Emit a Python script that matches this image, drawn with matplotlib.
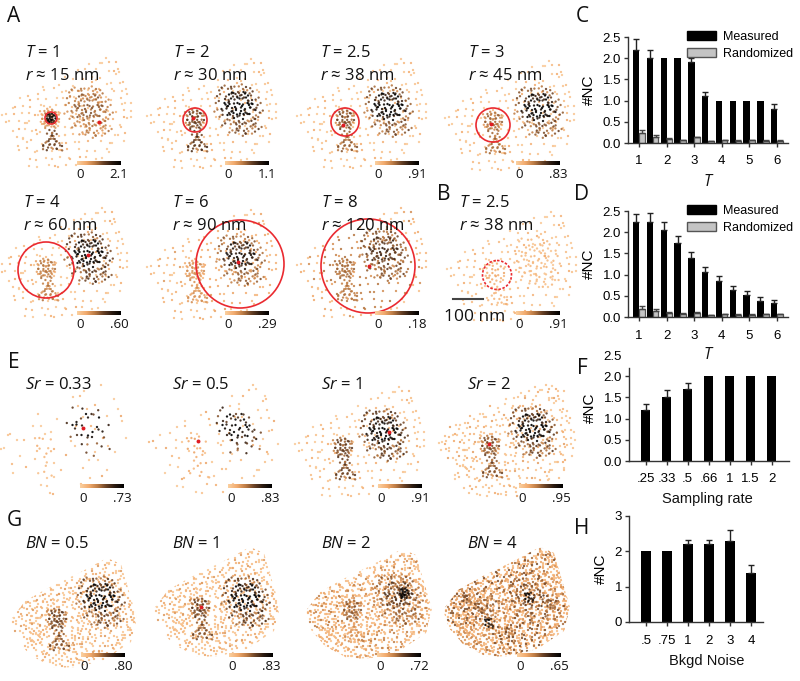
import numpy as np
import matplotlib
matplotlib.use("Agg")
import matplotlib.pyplot as plt
from matplotlib.colors import LinearSegmentedColormap
from matplotlib.patches import Circle, Polygon, Patch

plt.rcParams['font.family'] = ['Liberation Sans', 'DejaVu Sans']
plt.rcParams['mathtext.fontset'] = 'custom'
plt.rcParams['mathtext.rm'] = 'Open Sans'
plt.rcParams['mathtext.it'] = 'Open Sans:italic'

# ---------- bar chart values ----------
T_VALUES = [1, 1.5, 2, 2.5, 3, 3.5, 4, 4.5, 5, 5.5, 6]
C_MEASURED = [2.2, 2.0, 2.0, 2.0, 1.9, 1.1, 1.0, 1.0, 1.0, 1.0, 0.8]
C_MEASURED_ERR = [.25, .2, 0, 0, .1, .1, 0, 0, 0, 0, .13]
C_RANDOM = [.24, .14, .09, .06, .13, .04, .07, .05, .06, .05, .05]
C_RANDOM_ERR = [.06, .04, .02, .02, .02, .01, .01, .01, .01, .01, .01]
D_MEASURED = [2.23, 2.25, 2.05, 1.75, 1.38, 1.06, .85, .64, .53, .38, .32]
D_MEASURED_ERR = [.2, .2, .2, .17, .15, .13, .11, .09, .08, .08, .07]
D_RANDOM = [.2, .15, .09, .08, .09, .04, .07, .05, .05, .06, .07]
D_RANDOM_ERR = [.06, .05, .02, .02, .02, .01, .01, .01, .01, .01, .01]
F_LABELS = ['.25', '.33', '.5', '.66', '1', '1.5', '2']
F_VALUES = [1.2, 1.5, 1.7, 2, 2, 2, 2]
F_ERR = [.14, .17, .15, 0, 0, 0, 0]
H_LABELS = ['.5', '.75', '1', '2', '3', '4']
H_VALUES = [2, 2, 2.2, 2.2, 2.3, 1.4]
H_ERR = [0, 0, .13, .13, .3, .22]

# ---------- localisation maps: points read as rows (y, [x ...]) ----------
BG1_ROWS = [(-60,[55]),(-57,[48,60]),(-53,[42,52,64]),(-50,[37,58,67]),(-46,[30,46,62,70]),
 (-42,[24,39,53,66]),(-38,[15,31,48,60,72]),(-34,[8,22,44,57,68]),(-30,[-7,2,17,35,52,64,74]),
 (-26,[-15,-3,12,27,47,61,71]),(-22,[-24,-10,6,19,33,56,69,78]),(-18,[-31,-18,-4,11,25,43,64,75]),
 (-14,[-37,-26,-12,3,15,30,52,71,80]),(-10,[-34,-20,-8,8,21,37,60,74]),(-6,[-42,-29,-16,12,26,48,67,78]),
 (-2,[-46,-36,-23,-11,18,33,56,72]),(2,[-40,-28,-18,9,22,41,62,76,83]),(6,[-44,-33,-21,-9,14,28,50,69]),
 (10,[-38,-26,-12,8,19,36,57,73]),(14,[-31,-20,-9,12,26,44,63,77]),(18,[-36,-24,-13,7,17,32,52,70]),
 (22,[-29,-17,11,24,40,60,72]),(26,[-33,-21,-8,14,30,48,65]),(30,[-25,-12,6,20,37,55]),
 (34,[-28,-15,0,13,28,44,61]),(38,[-18,-5,9,22,36,50]),(42,[-12,2,17,31,43]),(46,[-20,-4,11,26]),(50,[-13,3,18])]
BG2_ROWS = [(-58,[44,64]),(-55,[56,69]),(-51,[34,48,72]),(-48,[26,42,61]),(-44,[18,35,57,74]),
 (-40,[9,27,44,64]),(-36,[0,20,38,54,76]),(-32,[-11,13,28,48,70]),(-28,[-20,-6,7,24,41,58,78]),
 (-24,[-28,-13,2,16,36,52,66]),(-20,[-36,-21,-7,9,29,47,60,80]),(-16,[-41,-29,-14,-1,20,38,58,73]),
 (-12,[-47,-32,-19,-6,10,26,45,66,83]),(-8,[-38,-25,-12,4,17,34,55,76]),(-4,[-49,-31,-17,-5,23,40,63,82]),
 (0,[-43,-26,-13,-3,13,28,48,68,85]),(4,[-48,-36,-23,4,18,35,56,74]),(8,[-41,-29,-15,-3,24,43,64,80]),
 (12,[-35,-24,-14,16,31,52,70]),(16,[-42,-28,-16,-4,21,38,58,75]),(20,[-33,-22,-8,13,28,47,66]),
 (24,[-26,-14,4,19,35,55,72]),(28,[-36,-19,-4,10,26,43,62]),(32,[-23,-9,16,33,50,67]),
 (36,[-32,-11,5,20,41,57]),(40,[-24,-8,13,28,46]),(44,[-16,-1,22,38]),(48,[-9,8,30]),(52,[-3,14])]
ROW_NUDGE_Y = [0, 2, -1, 1, -2, 3, -3, 1, -1, 2, 0, -2, 3]
ROW_NUDGE_X = [1, -2, 0, 2, -1, 3, -3, 0, 2, -2, 1]
LEFT_CORE = [(-6,-7),(-2,-10),(2,-8),(5,-6),(-8,-3),(-4,-4),(-1,-5),(3,-3),(8,-3),(-7,0),(-3,1),(0,-1),(4,2),
 (9,1),(-10,3),(-5,4),(-1,3),(2,5),(6,5),(-7,7),(-2,7),(1,9),(5,9),(-4,10),(-10,-6)]
LEFT_TAIL = [(-1,12),(3,14),(-3,16),(1,17),(4,19),(-2,20),(2,22),(6,23),(-4,24),(0,26),(4,27),(9,26),(-6,27),
 (12,28),(2,30),(7,31),(11,32),(-2,33)]
RIGHT_CORE = [(-14,-2),(-12,-7),(-11,2),(-10,-11),(-9,-4),(-8,5),(-8,-1),(-6,-13),(-6,-8),(-5,2),(-5,8),(-3,-10),
 (-3,-3),(-2,5),(-1,-14),(0,-7),(0,10),(1,-1),(2,-11),(2,4),(3,8),(4,-6),(5,-14),(5,1),(6,11),(7,-9),(7,5),
 (8,-3),(9,-12),(9,8),(10,1),(11,-6),(12,4),(13,-2),(14,-9),(-4,12),(-10,8),(12,10),(15,3),(-15,4)]
RIGHT_OUTER = [(-20,-4),(-19,3),(-18,-10),(-17,9),(-15,-15),(-13,12),(-11,-17),(-7,-19),(-7,14),(-2,-20),(0,16),
 (3,-19),(3,15),(8,-18),(8,14),(13,-16),(14,13),(17,-12),(18,8),(19,-5),(20,2),(-5,18),(1,20),(6,19),(11,18),
 (16,16),(21,12),(-2,24),(4,24),(9,23),(14,21),(19,19),(24,8),(7,28),(12,27),(17,25),(22,22),(-12,20),(-8,23),(25,-2)]
SHADE_CYCLE = [1, .75, .9, 1.1, .6, .95, .8, 1.05, .7, .85]
BG_SHADE_CYCLE = [1, .5, 1.7, .8, .4, 2.3, 1.2, .6, 1.5, .9, .5, 2.8, .7]
BN_OUTLINE = [(-47,3),(-32,-17),(-5,-32),(20,-44),(50,-60),(64,-54),(74,-20),(80,0),(74,24),(47,42),(20,49),
 (-3,50),(-27,37),(-41,21)]

# one entry per map panel
P_LABEL = ['$\\mathit{T}$ = 1\n$\\mathit{r}$ ≈ 15 nm', '$\\mathit{T}$ = 2\n$\\mathit{r}$ ≈ 30 nm',
           '$\\mathit{T}$ = 2.5\n$\\mathit{r}$ ≈ 38 nm', '$\\mathit{T}$ = 3\n$\\mathit{r}$ ≈ 45 nm',
           '$\\mathit{T}$ = 4\n$\\mathit{r}$ ≈ 60 nm', '$\\mathit{T}$ = 6\n$\\mathit{r}$ ≈ 90 nm',
           '$\\mathit{T}$ = 8\n$\\mathit{r}$ ≈ 120 nm', '$\\mathit{T}$ = 2.5\n$\\mathit{r}$ ≈ 38 nm',
           '$\\mathit{Sr}$ = 0.33', '$\\mathit{Sr}$ = 0.5', '$\\mathit{Sr}$ = 1', '$\\mathit{Sr}$ = 2',
           '$\\mathit{BN}$ = 0.5', '$\\mathit{BN}$ = 1', '$\\mathit{BN}$ = 2', '$\\mathit{BN}$ = 4']
P_VMAX = ['2.1', '1.1', '.91', '.83', '.60', '.29', '.18', '.91', '.73', '.83', '.91', '.95', '.80', '.83', '.72', '.65']
P_LEFT = [(50,118),(195,119),(345,119),(493,121),(46,268),(195,270),(345,268),(495,272),
          (45,445),(197,445),(343,447),(490,445),(57,618),(200,607),(352,609),(490,607)]
P_RIGHT = [(88,107),(238,105),(388,106),(538,107),(88,253),(240,255),(383,250),(535,258),
           (86,427),(236,427),(383,430),(532,427),(100,597),(245,597),(398,595),(530,597)]
P_TEXT = [(25,53),(173,53),(320,53),(468,53),(23,203),(172,203),(321,203),(459,203),
          (25,385),(172,385),(321,385),(467,385),(25,544),(172,544),(321,544),(467,544)]
P_CBAR = [(77,163),(225,163),(375,163),(516,163),(77,313),(225,313),(375,313),(516,313),
          (80,486),(228,486),(378,486),(519,486),(81,655),(229,655),(377,655),(517,655)]
# levels: background, left core, left tail, right core, right outer
P_LEVEL = [(.07,.3,.6,.5,.4),(.07,.6,.65,1.,.6),(.07,.55,.5,1.,.55),(.07,.45,.45,1.,.55),
           (.08,.4,.4,1.,.65),(.1,.3,.3,.85,.5),(.14,.45,.4,.7,.55),(.07,.2,.15,.12,.13),
           (.08,.16,.12,1.,.7),(.08,.22,.18,1.,.7),(.07,.6,.6,1.,.65),(.09,.55,.55,1.,.6),
           (.1,.6,.55,1.,.6),(.1,.6,.55,1.,.65),(.14,.5,.3,.65,.5),(.2,.5,.35,.6,.5)]
P_STEP = [1,1,1,1,1,1,1,1,3,2,1,1,1,1,1,1]      # read every n-th point in the sparse panels
P_BG_SHIFTS = [[], [], [], [], [], [], [], [], [], [], [], [(0,0)], [(0,0),(6,-5)], [(0,0),(6,-5)],
               [(0,0),(7,5),(-6,6)], [(0,0),(7,5),(-6,4),(5,-7),(-8,-5)]]
P_DOUBLE = [1,1,1,1,1,1,1,0,0,0,1,1,1,1,1,0]      # second set of cluster points
# dark spots: x, y relative to the left cluster, level
P_HUB = [[(1,0,1.)],[],[],[],[],[],[],[],[],[],[],[],[],[],[(52,-16,1.)],
         [(-22,-8,.55),(0,16,.95),(40,-10,1.),(-10,0,.5),(62,-3,.55),(20,25,.45)]]
P_CLIP = [0]*12 + [1,1,1,1]
P_CIRCLE = [(51,118,6,'-'),(195,120,12,'-'),(345,122,14,'-'),(493,125,17,'-'),(46,270,28,'-'),
            (240,264,44,'-'),(368,266,47,'-'),(497,275,14.5,(0,(1.5,1))),None,None,None,None,None,None,None,None]
P_RED = [(99,122),(193,118),(343,125),(491,124),(88,255),(238,262),(369,266),None,
         (83,428),(198,441),(389,432),(489,444),None,(201,607),None,None]

rows_to_xy = lambda rows: np.array([(x + ROW_NUDGE_X[(i * 3 + j) % len(ROW_NUDGE_X)],
                                     y + ROW_NUDGE_Y[(i + j * 2) % len(ROW_NUDGE_Y)])
                                    for i, (y, xs) in enumerate(rows) for j, x in enumerate(xs)], float)
BG1 = rows_to_xy(BG1_ROWS)
BG2 = rows_to_xy(BG2_ROWS)

def loosened(points, amount):
    a = np.array(points, float)
    a[:, 0] += np.array(ROW_NUDGE_X)[np.arange(len(a)) % len(ROW_NUDGE_X)] * amount
    a[:, 1] += np.array(ROW_NUDGE_Y)[np.arange(len(a)) % len(ROW_NUDGE_Y)] * amount
    return a

LC = loosened(LEFT_CORE, .4)
LT = loosened(LEFT_TAIL, .4)
RC = loosened(RIGHT_CORE, .5)
RO = loosened(RIGHT_OUTER, .8)
MIRROR = np.array([-1, 1])

W, H = 800, 681
CMAP = LinearSegmentedColormap.from_list('nc', ['#fbcf9f', '#f2ab6e', '#bd7c45', '#6a4226', '#2a1a10', '#000000'])

fig = plt.figure(figsize=(8, 6.81), dpi=100)
ov = fig.add_axes([0, 0, 1, 1])
ov.set_axis_off()
GRADIENT = np.linspace(0, 1, 64).reshape(1, -1)

for k in range(len(P_LABEL)):
    lx, ly = P_LEFT[k]; rx, ry = P_RIGHT[k]
    bg, lc, lt, rc, ro = P_LEVEL[k]
    st = P_STEP[k]
    pts, lev = [], []
    def add(a, off, level, cycle=SHADE_CYCLE):
        a = np.asarray(a, float)
        pts.append(a + off)
        lev.append(np.clip(level * np.array(cycle)[np.arange(len(a)) % len(cycle)], 0, 1))
    add(BG1[::st], (lx, ly), bg, BG_SHADE_CYCLE)
    for sh in P_BG_SHIFTS[k]:
        if sh != (0, 0):
            add(BG1, (lx + sh[0], ly + sh[1]), bg, BG_SHADE_CYCLE)
        add(BG2, (lx + sh[0], ly + sh[1]), bg, BG_SHADE_CYCLE)
    add(LC[::st], (lx, ly), lc)
    add(LT[::st], (lx, ly), lt)
    add(RC[::max(st - 1, 1)], (rx, ry), rc)
    add(RO[::st], (rx, ry), ro)
    if P_DOUBLE[k]:
        add(LC * MIRROR * .85, (lx, ly), lc)
        add(LT * MIRROR * .9, (lx + 4, ly + 2), lt)
        add(RC * MIRROR, (rx + 1, ry + 1), rc)
        add(RO[::-1], (rx - 3, ry + 2), ro)
    hub_step = 1 if len(P_HUB[k]) == 1 else 2
    for hx, hy, hl in P_HUB[k]:
        add(LC[::hub_step] * .5, (lx + hx, ly + hy), hl)
    P = np.vstack(pts); V = np.concatenate(lev)
    if k == 5 or k == 6:   # weights rise for points inside the large sampling circle
        cx, cy, cr, _ = P_CIRCLE[k]
        inside = np.hypot(P[:, 0] - cx, P[:, 1] - cy) < cr
        floor = .2 if k == 5 else .4
        V[inside] = np.maximum(V[inside], floor * np.array(SHADE_CYCLE)[np.arange(inside.sum()) % 10])
    order = np.argsort(V)
    sc = ov.scatter(P[order, 0], P[order, 1], c=V[order], cmap=CMAP, vmin=0, vmax=1, s=2.8, lw=0, alpha=.9, zorder=2)
    if P_CLIP[k]:
        poly = Polygon(np.array(BN_OUTLINE) + (lx, ly), transform=ov.transData)
        sc.set_clip_path(poly)
    if P_RED[k]:
        ov.scatter(*P_RED[k], s=8, color='#e01b22', lw=0, zorder=4)
    if P_CIRCLE[k]:
        cx, cy, cr, ls = P_CIRCLE[k]
        ov.add_patch(Circle((cx, cy), cr, fill=False, ec='#ea2a30', lw=1.2, ls=ls, zorder=3))
    # text block
    tx, ty = P_TEXT[k]
    lines = P_LABEL[k].split('\n')
    for n, s in enumerate(lines):
        ov.text(tx, ty + n * 23, s, fontsize=12, family='Open Sans', va='center', ha='left', color='#111', zorder=6)
    # colour scale
    bx, by = P_CBAR[k]
    ov.imshow(GRADIENT, extent=(bx, bx + 44, by + 1.7, by - 1.7), cmap=CMAP, aspect='auto', zorder=5)
    ov.text(bx + 3, by + 12, '0', fontsize=9.5, family='Open Sans', ha='center', va='center', color='#111')
    ov.text(bx + 42, by + 12, P_VMAX[k], fontsize=9.5, family='Open Sans', ha='center', va='center', color='#111')

ov.plot([453, 483], [299, 299], color='#444', lw=1.5, zorder=5)
ov.text(475, 317, '100 nm', fontsize=12.5, family='Open Sans', ha='center', va='center', color='#111')
for s, x, y in [('A', 14, 17), ('B', 444, 195), ('C', 582, 17), ('D', 582, 195),
                ('E', 14, 362), ('F', 582, 369), ('G', 14, 520), ('H', 582, 528)]:
    ov.text(x, y, s, fontsize=15, family='Open Sans', ha='center', va='center', color='#111')
ov.text(709, 181, '$\\mathit{T}$', fontsize=11.5, ha='center', va='center', color='#111')
ov.text(709, 354, '$\\mathit{T}$', fontsize=11.5, ha='center', va='center', color='#111')
ov.set_xlim(0, W); ov.set_ylim(H, 0)

def bar_axes(x0, x1, ytop, ybot, ylim):
    ax = fig.add_axes([x0 / W, 1 - ybot / H, (x1 - x0) / W, (ybot - ytop) / H])
    ax.patch.set_alpha(0)
    ax.set_ylim(*ylim)
    for s in ['top', 'right']:
        ax.spines[s].set_visible(False)
    for s in ['left', 'bottom']:
        ax.spines[s].set_linewidth(1.0); ax.spines[s].set_color('#333')
    ax.tick_params(length=3, width=1, color='#333', labelsize=9.5, pad=2)
    ax.tick_params(axis='x', pad=6)
    ax.set_ylabel('#NC', fontsize=11, labelpad=5)
    return ax

def up_err(ax, x, y, e, color='k'):
    x, y, e = np.array(x, float), np.array(y, float), np.array(e, float)
    m = e > 0
    ax.errorbar(x[m], y[m], yerr=[np.zeros(m.sum()), e[m]], fmt='none', ecolor=color,
                elinewidth=1, capsize=2.2, capthick=1)

def grouped(ytop, ybot, measured, merr, rand, rerr, legend_top):
    ax = bar_axes(628, 788, ytop, ybot, (0, 2.5))
    t = np.array(T_VALUES)
    ax.set_xlim(1 - 11 / 27.6, 1 + 149 / 27.6)
    up_err(ax, t - .1, measured, merr, '#222')
    ax.bar(t - .1, measured, width=.23, color='k')
    up_err(ax, t + .1, rand, rerr, '#444')
    ax.bar(t + .1, rand, width=.2, color='#c4c4c4', edgecolor='#555', lw=.9)
    ax.set_xticks(range(1, 7))
    ax.set_yticks([0, .5, 1, 1.5, 2, 2.5], ['0.0', '0.5', '1.0', '1.5', '2.0', '2.5'])
    hs = [Patch(fc='k', ec='k', label='Measured'), Patch(fc='#c4c4c4', ec='#555', label='Randomized')]
    fig.legend(handles=hs, loc='upper left', bbox_to_anchor=(687 / W, 1 - legend_top / H), frameon=False,
               borderpad=0, borderaxespad=0, handlelength=2.3, handleheight=.74, labelspacing=.42,
               handletextpad=.55, fontsize=9)
    return ax

grouped(37, 143, C_MEASURED, C_MEASURED_ERR, C_RANDOM, C_RANDOM_ERR, 31)
grouped(211, 317, D_MEASURED, D_MEASURED_ERR, D_RANDOM, D_RANDOM_ERR, 205)

def single(x1, ytop, ybot, ylim, labels, values, errs, yticks, yticklabels, xlabel, spine_top, xlab_y, first_px):
    ax = bar_axes(629, x1, ytop, ybot, ylim)
    x = np.arange(len(labels))
    ax.set_xlim(-(first_px - 629) / 21, (x1 - first_px) / 21)
    up_err(ax, x, values, errs, '#222')
    ax.bar(x, values, width=.44, color='k')
    ax.set_xticks(x, labels)
    ax.set_yticks(yticks, yticklabels)
    ax.spines['left'].set_bounds(0, spine_top)
    ov.text(707, xlab_y, xlabel, fontsize=10.5, ha='center', va='center', color='#111')
    return ax

axf = single(789, 355, 461, (0, 2.5), F_LABELS, F_VALUES, F_ERR, [0, .5, 1, 1.5, 2, 2.5],
             ['0.0', '0.5', '1.0', '1.5', '2.0', '2.5'], 'Sampling rate', 2.2, 499, 645.7)
axf.get_yticklines()[-2].set_visible(False)
axh = single(763, 516, 622, (0, 3), H_LABELS, H_VALUES, H_ERR, [0, 1, 2, 3], ['0', '1', '2', '3'],
             'Bkgd Noise', 3, 661, 646)

fig.savefig('out.png', dpi=100)
